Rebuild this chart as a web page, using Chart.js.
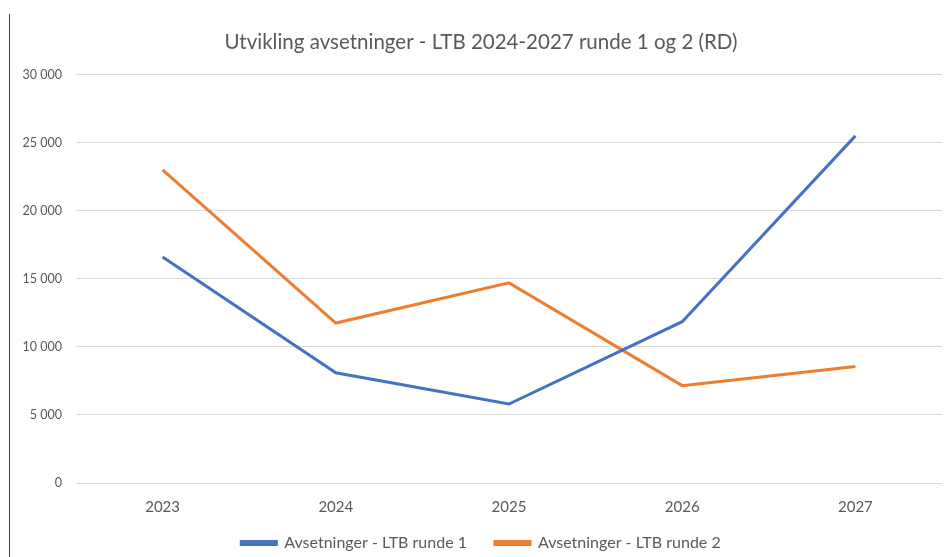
<!DOCTYPE html>
<html>
<head>
<meta charset="utf-8">
<script src="https://cdn.jsdelivr.net/npm/chart.js@4"></script>
<style>
  html, body { margin: 0; padding: 0; background: #ffffff; }
  #wrap { position: relative; width: 949px; height: 557px; }
  #edge { position: absolute; left: 9px; top: 14px; width: 1px; height: 543px; background: #404040; }
  canvas { display: block; }
</style>
</head>
<body>
<div id="wrap">
  <canvas id="c" width="949" height="557"></canvas>
  <div id="edge"></div>
</div>
<script>
const categories = ['2023', '2024', '2025', '2026', '2027'];
const runde1 = [16600, 8100, 5800, 11850, 25500];
const runde2 = [23000, 11750, 14700, 7150, 8550];
const seriesNames = ['Avsetninger - LTB runde 1', 'Avsetninger - LTB runde 2'];
const chartTitle = 'Utvikling avsetninger - LTB 2024-2027 runde 1 og 2 (RD)';
const yMin = 0, yMax = 30000, yStep = 5000;

const FONT = 'Lato, "Open Sans", sans-serif';
const TXT = '#595959';

function fmt(v) {
  return String(v).replace(/\B(?=(\d{3})+(?!\d))/g, ' ');
}

new Chart(document.getElementById('c'), {
  type: 'line',
  data: {
    labels: categories,
    datasets: [
      { label: seriesNames[0], data: runde1, borderColor: '#4472C4', backgroundColor: '#4472C4',
        borderWidth: 3, pointRadius: 0, tension: 0 },
      { label: seriesNames[1], data: runde2, borderColor: '#ED7D31', backgroundColor: '#ED7D31',
        borderWidth: 3, pointRadius: 0, tension: 0 }
    ]
  },
  options: {
    responsive: false,
    animation: false,
    layout: { padding: { left: 20, right: 7, top: 16, bottom: -4 } },
    plugins: {
      title: {
        display: true, text: chartTitle, color: TXT,
        font: { family: FONT, size: 20.5, weight: 'normal' },
        padding: { top: 14, bottom: 20 }
      },
      legend: {
        position: 'bottom',
        labels: {
          color: TXT, font: { family: FONT, size: 16 },
          boxWidth: 35, boxHeight: 3, padding: 4,
          generateLabels: chart => {
            const items = Chart.defaults.plugins.legend.labels.generateLabels(chart);
            items.forEach((it, i) => { if (i < items.length - 1) it.text = it.text + '\u2003\u2003'; });
            return items;
          }
        }
      },
      tooltip: { enabled: false }
    },
    scales: {
      x: {
        offset: true,
        grid: { display: false, drawTicks: false },
        border: { display: false },
        ticks: { color: TXT, font: { family: FONT, size: 15 }, padding: 15 }
      },
      y: {
        min: yMin, max: yMax,
        afterFit: s => { s.width = 56; },
        grid: { color: '#d9d9d9', lineWidth: 1, drawTicks: false },
        border: { display: false },
        ticks: { stepSize: yStep, color: TXT, font: { family: FONT, size: 12.5 }, padding: 14,
          callback: v => fmt(v) }
      }
    }
  }
});
</script>
</body>
</html>
